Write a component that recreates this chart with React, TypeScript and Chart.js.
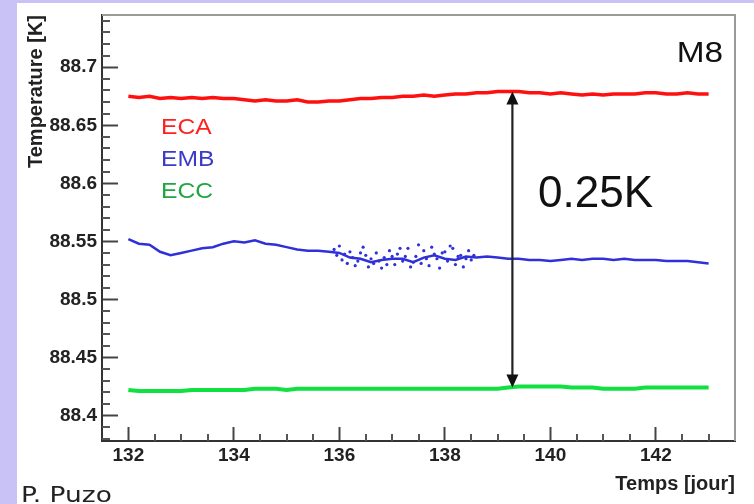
import React, { useEffect, useRef } from 'react';
import { Chart, registerables } from 'chart.js';

Chart.register(...registerables);

// ---------------- data ----------------
const days = [
  132.0, 132.2, 132.4, 132.6, 132.8, 133.0, 133.2, 133.4, 133.6, 133.8,
  134.0, 134.2, 134.4, 134.6, 134.8, 135.0, 135.2, 135.4, 135.6, 135.8,
  136.0, 136.2, 136.4, 136.6, 136.8, 137.0, 137.2, 137.4, 137.6, 137.8,
  138.0, 138.2, 138.4, 138.6, 138.8, 139.0, 139.2, 139.4, 139.6, 139.8,
  140.0, 140.2, 140.4, 140.6, 140.8, 141.0, 141.2, 141.4, 141.6, 141.8,
  142.0, 142.2, 142.4, 142.6, 142.8, 143.0,
];

const ecaValues = [
  88.675, 88.674, 88.675, 88.673, 88.674, 88.673, 88.674, 88.673, 88.674, 88.673,
  88.673, 88.672, 88.671, 88.672, 88.671, 88.671, 88.672, 88.670, 88.670, 88.671,
  88.671, 88.672, 88.673, 88.673, 88.674, 88.674, 88.675, 88.675, 88.676, 88.675,
  88.676, 88.677, 88.677, 88.678, 88.678, 88.679, 88.679, 88.679, 88.678, 88.678,
  88.677, 88.678, 88.677, 88.676, 88.677, 88.676, 88.677, 88.677, 88.677, 88.678,
  88.678, 88.677, 88.677, 88.678, 88.677, 88.677,
];

const embValues = [
  88.552, 88.548, 88.547, 88.541, 88.538, 88.540, 88.542, 88.544, 88.545, 88.548,
  88.550, 88.549, 88.551, 88.548, 88.547, 88.545, 88.543, 88.542, 88.542, 88.541,
  88.540, 88.536, 88.535, 88.532, 88.534, 88.535, 88.535, 88.532, 88.536, 88.538,
  88.535, 88.534, 88.537, 88.536, 88.537, 88.536, 88.535, 88.535, 88.534, 88.534,
  88.533, 88.534, 88.535, 88.534, 88.535, 88.535, 88.534, 88.535, 88.534, 88.534,
  88.534, 88.533, 88.533, 88.533, 88.532, 88.531,
];

const eccValues = [
  88.422, 88.421, 88.421, 88.421, 88.421, 88.421, 88.422, 88.422, 88.422, 88.422,
  88.422, 88.422, 88.423, 88.423, 88.423, 88.422, 88.423, 88.423, 88.423, 88.423,
  88.423, 88.423, 88.423, 88.423, 88.423, 88.423, 88.423, 88.423, 88.423, 88.423,
  88.423, 88.423, 88.423, 88.423, 88.423, 88.423, 88.424, 88.425, 88.425, 88.425,
  88.425, 88.425, 88.424, 88.424, 88.424, 88.423, 88.423, 88.423, 88.423, 88.424,
  88.424, 88.424, 88.424, 88.424, 88.424, 88.424,
];

// scattered EMB readings in the noisy interval
const embScatterDays = [
  135.9, 135.95, 136.0, 136.05, 136.1, 136.15, 136.2, 136.25, 136.3, 136.35,
  136.4, 136.45, 136.5, 136.55, 136.6, 136.65, 136.7, 136.75, 136.8, 136.85,
  136.9, 136.95, 137.0, 137.05, 137.1, 137.15, 137.2, 137.25, 137.3, 137.35,
  137.4, 137.45, 137.5, 137.55, 137.6, 137.65, 137.7, 137.75, 137.8, 137.85,
  137.9, 137.95, 138.0, 138.05, 138.1, 138.15, 138.2, 138.25, 138.3, 138.35,
  138.4, 138.45, 138.5, 138.55,
];
const embScatterValues = [
  88.543, 88.538, 88.546, 88.534, 88.539, 88.531, 88.541, 88.536, 88.529, 88.533,
  88.540, 88.545, 88.538, 88.528, 88.535, 88.531, 88.540, 88.533, 88.527, 88.536,
  88.530, 88.542, 88.537, 88.530, 88.539, 88.544, 88.533, 88.537, 88.544, 88.528,
  88.532, 88.537, 88.547, 88.531, 88.542, 88.535, 88.529, 88.545, 88.539, 88.535,
  88.527, 88.540, 88.541, 88.533, 88.546, 88.544, 88.530, 88.537, 88.538, 88.528,
  88.535, 88.542, 88.534, 88.538,
];

const seriesNames = ['ECA', 'EMB', 'ECC'];
const seriesColors = ['#ff1010', '#3030d8', '#10e040'];
const legendColors = ['#ff2020', '#3a3acb', '#1fa640'];

const xTickValues = [132, 134, 136, 138, 140, 142];
const xTickLabels = ['132', '134', '136', '138', '140', '142'];
const yTickValues = [88.4, 88.45, 88.5, 88.55, 88.6, 88.65, 88.7];
const yTickLabels = ['88.4', '88.45', '88.5', '88.55', '88.6', '88.65', '88.7'];

const arrowDay = 139.28;
const arrowTop = 88.679;
const arrowBottom = 88.424;
const gapLabel = '0.25K';
const panelLabel = 'M8';
const authorLabel = 'P. Puzo';
const xTitle = 'Temps [jour]';
const yTitle = 'Temperature [K]';

// ---------------- helpers ----------------
function drawStretched(
  ctx: CanvasRenderingContext2D,
  text: string,
  x: number,
  y: number,
  font: string,
  color: string,
  sx: number,
  align: CanvasTextAlign
) {
  ctx.save();
  ctx.font = font;
  ctx.fillStyle = color;
  ctx.textAlign = align;
  ctx.textBaseline = 'alphabetic';
  ctx.translate(x, y);
  ctx.scale(sx, 1);
  ctx.fillText(text, 0, 0);
  ctx.restore();
}

const decorPlugin = {
  id: 'decor',
  beforeDraw(chart: any) {
    const { ctx, width, height } = chart;
    ctx.save();
    ctx.fillStyle = '#c8c2f6';
    ctx.fillRect(0, 0, width, height);
    ctx.fillStyle = '#ffffff';
    ctx.fillRect(17, 3, width - 17, height - 3);
    ctx.restore();
  },
  afterDraw(chart: any) {
    const { ctx, chartArea } = chart;
    const xs = chart.scales.x;
    const ys = chart.scales.y;
    ctx.save();
    // top & right frame
    ctx.strokeStyle = '#9a9a9a';
    ctx.lineWidth = 2;
    ctx.beginPath();
    ctx.moveTo(chartArea.left, chartArea.top);
    ctx.lineTo(chartArea.right, chartArea.top);
    ctx.lineTo(chartArea.right, chartArea.bottom);
    ctx.stroke();
    // minor ticks
    ctx.strokeStyle = '#555';
    ctx.lineWidth = 2;
    ctx.beginPath();
    for (let k = 263; k <= 287; k++) {
      if (k % 4 === 0) continue;
      const v = k / 2;
      if (v <= xs.min || v >= xs.max) continue;
      const px = Math.round(xs.getPixelForValue(v));
      ctx.moveTo(px, chartArea.bottom);
      ctx.lineTo(px, chartArea.bottom - 7);
    }
    for (let k = 8838; k <= 8874; k++) {
      if (k % 5 === 0) continue;
      const v = k / 100;
      if (v <= ys.min || v >= ys.max) continue;
      const py = Math.round(ys.getPixelForValue(v));
      ctx.moveTo(chartArea.left, py);
      ctx.lineTo(chartArea.left + 8, py);
    }
    ctx.stroke();

    // double arrow
    const ax = xs.getPixelForValue(arrowDay);
    const ayTop = ys.getPixelForValue(arrowTop);
    const ayBot = ys.getPixelForValue(arrowBottom);
    const head = 13;
    const hw = 6;
    ctx.strokeStyle = '#222';
    ctx.fillStyle = '#111';
    ctx.lineWidth = 2.2;
    ctx.beginPath();
    ctx.moveTo(ax, ayTop + head - 1);
    ctx.lineTo(ax, ayBot - head + 1);
    ctx.stroke();
    ctx.beginPath();
    ctx.moveTo(ax, ayTop);
    ctx.lineTo(ax - hw, ayTop + head);
    ctx.lineTo(ax + hw, ayTop + head);
    ctx.closePath();
    ctx.fill();
    ctx.beginPath();
    ctx.moveTo(ax, ayBot);
    ctx.lineTo(ax - hw, ayBot - head);
    ctx.lineTo(ax + hw, ayBot - head);
    ctx.closePath();
    ctx.fill();
    ctx.restore();

    // texts
    const sans = '"Liberation Sans", Arial, sans-serif';
    drawStretched(ctx, gapLabel, 538, 207, `44px ${sans}`, '#111', 1.0, 'left');
    drawStretched(ctx, panelLabel, 723, 62, `29px ${sans}`, '#111', 1.15, 'right');
    const legendY = [134, 166, 198];
    seriesNames.forEach((n, i) => {
      drawStretched(ctx, n, 161, legendY[i], `22px ${sans}`, legendColors[i], 1.12, 'left');
    });
    drawStretched(ctx, authorLabel, 21, 502, `22px "DejaVu Sans", sans-serif`, '#222', 1.2, 'left');
  },
};

export default function App() {
  const ref = useRef<HTMLCanvasElement | null>(null);

  useEffect(() => {
    document.body.style.margin = '0';
    const canvas = ref.current;
    if (!canvas) return;
    const toXY = (xs: number[], ys: number[]) => xs.map((x, i) => ({ x, y: ys[i] }));
    const tickFont = { family: '"Liberation Sans", Arial, sans-serif', size: 19, weight: 'bold' as const };
    const titleFont = { family: '"Liberation Sans", Arial, sans-serif', size: 20, weight: 'bold' as const, lineHeight: 1.2 };

    const chart = new Chart(canvas, {
      type: 'line',
      data: {
        datasets: [
          {
            label: seriesNames[0],
            data: toXY(days, ecaValues),
            borderColor: seriesColors[0],
            borderWidth: 3.5,
            pointRadius: 0,
            tension: 0,
          },
          {
            label: seriesNames[1],
            data: toXY(days, embValues),
            borderColor: seriesColors[1],
            borderWidth: 2.5,
            pointRadius: 0,
            tension: 0,
          },
          {
            label: seriesNames[1] + ' (dispersion)',
            data: toXY(embScatterDays, embScatterValues),
            borderColor: seriesColors[1],
            backgroundColor: seriesColors[1],
            showLine: false,
            pointRadius: 1.6,
            pointBorderWidth: 0,
          },
          {
            label: seriesNames[2],
            data: toXY(days, eccValues),
            borderColor: seriesColors[2],
            borderWidth: 4,
            pointRadius: 0,
            tension: 0,
          },
        ],
      },
      options: {
        animation: false,
        responsive: false,
        events: [],
        layout: { padding: { left: 0, top: 15, right: 19, bottom: 0 } },
        plugins: {
          legend: { display: false },
          tooltip: { enabled: false },
        },
        scales: {
          x: {
            type: 'linear',
            min: 131.5,
            max: 143.5,
            afterFit: (s: any) => {
              s.height = 63;
              s.paddingLeft = 0;
              s.paddingRight = 0;
            },
            afterBuildTicks: (s: any) => {
              s.ticks = xTickValues.map((v) => ({ value: v }));
            },
            ticks: {
              includeBounds: false,
              autoSkip: false,
              maxRotation: 0,
              padding: 17,
              color: '#222',
              font: tickFont,
              callback: (v: any) => {
                const i = xTickValues.indexOf(Number(v));
                return i >= 0 ? xTickLabels[i] : '';
              },
            },
            grid: {
              drawOnChartArea: false,
              drawTicks: true,
              tickLength: -14,
              tickColor: '#444',
              tickWidth: 2,
            },
            border: { display: true, color: '#333', width: 2 },
            title: {
              display: true,
              text: xTitle,
              align: 'end',
              color: '#222',
              font: titleFont,
              padding: { top: 0, bottom: 8 },
            },
          },
          y: {
            type: 'linear',
            min: 88.378,
            max: 88.745,
            afterFit: (s: any) => {
              s.width = 102;
              s.paddingTop = 0;
              s.paddingBottom = 0;
            },
            afterBuildTicks: (s: any) => {
              s.ticks = yTickValues.map((v) => ({ value: v }));
            },
            ticks: {
              includeBounds: false,
              autoSkip: false,
              padding: 21,
              color: '#222',
              font: tickFont,
              callback: (v: any) => {
                const i = yTickValues.findIndex((t) => Math.abs(t - Number(v)) < 1e-6);
                return i >= 0 ? yTickLabels[i] : '';
              },
            },
            grid: {
              drawOnChartArea: false,
              drawTicks: true,
              tickLength: -16,
              tickColor: '#444',
              tickWidth: 2,
            },
            border: { display: true, color: '#333', width: 2 },
            title: {
              display: true,
              text: yTitle,
              align: 'end',
              color: '#222',
              font: titleFont,
              padding: { top: 24, bottom: 0 },
            },
          },
        },
      },
      plugins: [decorPlugin],
    } as any);

    return () => chart.destroy();
  }, []);

  return (
    <div style={{ width: 754, height: 504 }}>
      <canvas ref={ref} width={754} height={504} style={{ display: 'block', width: 754, height: 504 }} />
    </div>
  );
}
